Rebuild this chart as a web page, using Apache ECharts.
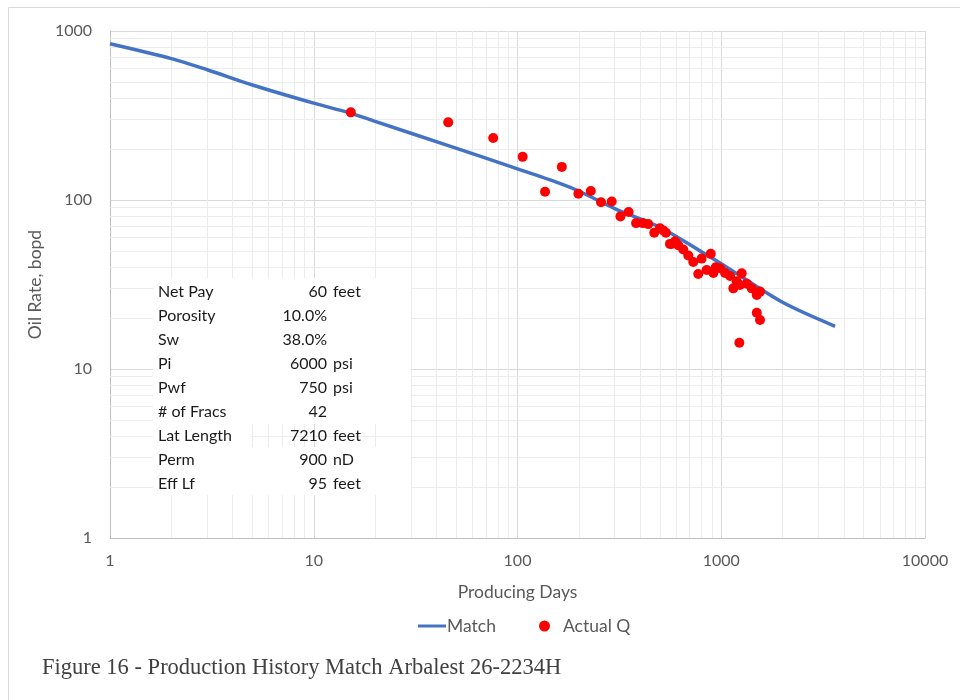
<!DOCTYPE html>
<html>
<head>
<meta charset="utf-8">
<script src="https://cdn.jsdelivr.net/npm/echarts@6/dist/echarts.min.js"></script>
<style>
  html, body { margin: 0; padding: 0; background: #ffffff; }
  #chart { width: 960px; height: 700px; }
</style>
</head>
<body>
<div id="chart"></div>
<script>
// Type-curve match (rate vs time, log-log)
const matchDays = [1, 2, 3, 5, 10, 15, 20, 45, 100, 160, 200, 300, 500, 786, 1000, 2000, 3620];
const matchRate = [840, 686, 590, 479, 374, 328, 292, 211, 153, 126, 113, 89, 69, 50, 42, 24.8, 17.9];

// Measured oil rates
const actualDays = [15.2, 45.7, 76, 106, 136.5, 165, 199, 229, 257, 290, 320, 351, 382, 412, 438,
  469, 500, 520, 535, 560, 571, 593, 615, 651, 689, 729, 771, 801, 848, 888, 915, 940, 987, 1044,
  1105, 1146, 1190, 1227, 1236, 1260, 1333, 1411, 1494, 1494, 1550, 1550];
const actualRate = [330, 288, 233, 180, 112, 157, 109, 113, 97, 98, 80, 85, 73, 73, 72,
  64, 68, 66, 64, 55, 55, 57, 54, 51, 47, 43, 36.5, 45, 38.5, 48, 37, 40, 39.5, 37,
  35.5, 30, 33, 14.3, 31.4, 36.8, 32, 30, 27.4, 21.5, 28.7, 19.5];

// Well parameters table
const paramNames = ['Net Pay', 'Porosity', 'Sw', 'Pi', 'Pwf', '# of Fracs', 'Lat Length', 'Perm', 'Eff Lf'];
const paramValues = ['60', '10.0%', '38.0%', '6000', '750', '42', '7210', '900', '95'];
const paramUnits = ['feet', '', '', 'psi', 'psi', '', 'feet', 'nD', 'feet'];

const xTickLabels = ['1', '10', '100', '1000', '10000'];
const yTickLabels = ['1', '10', '100', '1000'];

const FONT = 'Lato, "Open Sans", sans-serif';
const GREY = '#595959';

// minor log gridlines at 2..9 of each decade
const minorX = [], minorY = [];
for (let d = 0; d < 4; d++) {
  for (let k = 2; k <= 9; k++) {
    minorX.push(k * Math.pow(10, d));
    if (d < 3) minorY.push(k * Math.pow(10, d));
  }
}
const minorLines = minorX.map(v => ({ xAxis: v })).concat(minorY.map(v => ({ yAxis: v })));

function tickLabel(list) {
  return function (v) {
    const s = String(Math.round(v));
    return list.indexOf(s) >= 0 ? s : '';
  };
}

// parameters table graphics
const tableGraphics = [];
// white backing for the table (the Lat Length row is open on its right part)
tableGraphics.push({ type: 'rect', z: 50, silent: true, shape: { x: 153, y: 278, width: 258, height: 146 }, style: { fill: '#ffffff' } });
tableGraphics.push({ type: 'rect', z: 50, silent: true, shape: { x: 153, y: 424, width: 97, height: 23 }, style: { fill: '#ffffff' } });
tableGraphics.push({ type: 'rect', z: 50, silent: true, shape: { x: 153, y: 447, width: 258, height: 48 }, style: { fill: '#ffffff' } });
paramNames.forEach((name, i) => {
  const y = 292 + 24 * i;
  const base = { fill: '#1a1a1a', font: '16px ' + FONT, textVerticalAlign: 'middle', verticalAlign: 'middle' };
  tableGraphics.push({ type: 'text', z: 51, silent: true, style: Object.assign({ text: name, x: 158, y: y, textAlign: 'left', align: 'left' }, base) });
  tableGraphics.push({ type: 'text', z: 51, silent: true, style: Object.assign({ text: paramValues[i], x: 327, y: y, textAlign: 'right', align: 'right' }, base) });
  if (paramUnits[i]) {
    tableGraphics.push({ type: 'text', z: 51, silent: true, style: Object.assign({ text: paramUnits[i], x: 333, y: y, textAlign: 'left', align: 'left' }, base) });
  }
});

const chart = echarts.init(document.getElementById('chart'), null, { renderer: 'canvas' });

chart.setOption({
  animation: false,
  backgroundColor: '#ffffff',
  grid: { left: 110, right: 35, top: 31, bottom: 162, containLabel: false },
  legend: [
    {
      data: [{ name: 'Match', icon: 'rect' }],
      left: 418, top: 617, padding: 0, itemWidth: 28, itemHeight: 3, itemGap: 0,
      textStyle: { color: GREY, fontSize: 17.5, fontFamily: FONT, padding: [0, 0, 0, -4] }
    },
    {
      data: [{ name: 'Actual Q', icon: 'circle' }],
      left: 539, top: 617, padding: 0, itemWidth: 11, itemHeight: 11,
      textStyle: { color: GREY, fontSize: 17.5, fontFamily: FONT, padding: [0, 0, 0, 8] }
    }
  ],
  xAxis: {
    type: 'log', logBase: 10, min: 1, max: 10000, splitNumber: 4,
    name: 'Producing Days', nameLocation: 'middle', nameGap: 45,
    nameTextStyle: { color: GREY, fontSize: 17.5, fontFamily: FONT },
    axisLine: { show: true, lineStyle: { color: '#bfbfbf', width: 1 } },
    axisTick: { show: false },
    axisLabel: { color: GREY, fontSize: 16, fontFamily: FONT, margin: 15, formatter: tickLabel(xTickLabels) },
    splitLine: { show: true, lineStyle: { color: '#d9d9d9', width: 1 } }
  },
  yAxis: {
    type: 'log', logBase: 10, min: 1, max: 1000, splitNumber: 3,
    name: 'Oil Rate, bopd', nameLocation: 'middle', nameGap: 64, nameRotate: 90,
    nameTextStyle: { color: GREY, fontSize: 17.5, fontFamily: FONT },
    axisLine: { show: true, lineStyle: { color: '#bfbfbf', width: 1 } },
    axisTick: { show: false },
    axisLabel: { color: GREY, fontSize: 16, fontFamily: FONT, margin: 18, formatter: tickLabel(yTickLabels) },
    splitLine: { show: true, lineStyle: { color: '#d9d9d9', width: 1 } }
  },
  series: [
    {
      name: 'minor-grid', type: 'line', data: [], z: 1, silent: true,
      markLine: {
        z: 1, silent: true, symbol: ['none', 'none'], label: { show: false },
        lineStyle: { color: '#ececec', type: 'solid', width: 1 },
        emphasis: { disabled: true },
        data: minorLines
      }
    },
    {
      name: 'Match', type: 'line', z: 3,
      data: matchDays.map((d, i) => [d, matchRate[i]]),
      showSymbol: false, symbol: 'none', smooth: 0.3,
      itemStyle: { color: '#4472c4' },
      lineStyle: { color: '#4472c4', width: 3.5 }
    },
    {
      name: 'Actual Q', type: 'scatter', z: 4,
      data: actualDays.map((d, i) => [d, actualRate[i]]),
      symbol: 'circle', symbolSize: 10,
      itemStyle: { color: '#ff0000', opacity: 1 }
    }
  ],
  graphic: [
    { type: 'line', z: 0, silent: true, shape: { x1: 8.5, y1: 7.5, x2: 960, y2: 7.5 }, style: { stroke: '#d9d9d9', lineWidth: 1 } },
    { type: 'line', z: 0, silent: true, shape: { x1: 8.5, y1: 7.5, x2: 8.5, y2: 700 }, style: { stroke: '#d9d9d9', lineWidth: 1 } },
    {
      type: 'text', z: 60, silent: true,
      style: {
        text: 'Figure 16 - Production History Match Arbalest 26-2234H',
        x: 42, y: 668, fill: '#404040', font: '22.5px "Liberation Serif", "Times New Roman", serif',
        textAlign: 'left', textVerticalAlign: 'middle', align: 'left', verticalAlign: 'middle'
      }
    }
  ].concat(tableGraphics)
});
</script>
</body>
</html>
